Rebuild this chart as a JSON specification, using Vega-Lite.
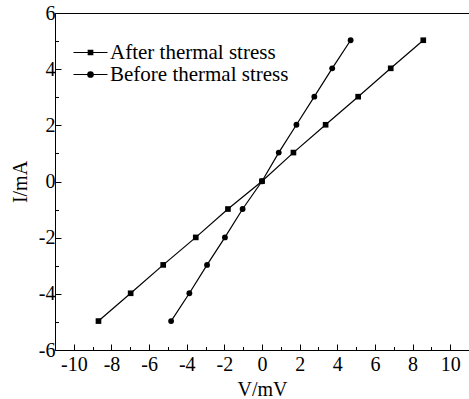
{
  "$schema": "https://vega.github.io/schema/vega-lite/v6.json",
  "autosize": "none",
  "width": 414,
  "height": 337,
  "padding": {"left": 55, "top": 13, "right": 0, "bottom": 49},
  "background": "white",
  "config": {
    "view": {"stroke": "black", "strokeWidth": 1},
    "axis": {
      "grid": false,
      "domainColor": "black",
      "domainWidth": 1,
      "tickColor": "black",
      "tickWidth": 1,
      "labelColor": "black",
      "labelFont": "Liberation Serif",
      "labelFontSize": 20,
      "titleFont": "Liberation Serif",
      "titleFontSize": 20,
      "titleFontWeight": "normal",
      "titleColor": "black",
      "labelFlush": false,
      "labelOverlap": false,
      "labelBound": false
    }
  },
  "data": {
    "values": [
      {"series": "After thermal stress", "V": -8.69, "I": -4.97},
      {"series": "After thermal stress", "V": -6.98, "I": -3.98},
      {"series": "After thermal stress", "V": -5.25, "I": -2.97},
      {"series": "After thermal stress", "V": -3.52, "I": -1.99},
      {"series": "After thermal stress", "V": -1.81, "I": -0.98},
      {"series": "After thermal stress", "V": 0, "I": 0.01},
      {"series": "After thermal stress", "V": 1.67, "I": 1.03},
      {"series": "After thermal stress", "V": 3.38, "I": 2.02},
      {"series": "After thermal stress", "V": 5.11, "I": 3.02},
      {"series": "After thermal stress", "V": 6.84, "I": 4.03},
      {"series": "After thermal stress", "V": 8.57, "I": 5.03},
      {"series": "Before thermal stress", "V": -4.83, "I": -4.97},
      {"series": "Before thermal stress", "V": -3.86, "I": -3.98},
      {"series": "Before thermal stress", "V": -2.92, "I": -2.97},
      {"series": "Before thermal stress", "V": -1.97, "I": -1.99},
      {"series": "Before thermal stress", "V": -1.03, "I": -0.98},
      {"series": "Before thermal stress", "V": 0, "I": 0.01},
      {"series": "Before thermal stress", "V": 0.89, "I": 1.03},
      {"series": "Before thermal stress", "V": 1.83, "I": 2.02},
      {"series": "Before thermal stress", "V": 2.78, "I": 3.02},
      {"series": "Before thermal stress", "V": 3.73, "I": 4.03},
      {"series": "Before thermal stress", "V": 4.71, "I": 5.03}
    ]
  },
  "resolve": {"axis": {"x": "independent", "y": "independent"}, "scale": {"x": "shared", "y": "shared"}},
  "layer": [
    {
      "mark": {"type": "line", "color": "black", "strokeWidth": 1.2},
      "encoding": {
        "x": {
          "field": "V", "type": "quantitative",
          "scale": {"domain": [-11, 11], "nice": false, "zero": false},
          "axis": {"orient": "bottom", "values": [-10, -8, -6, -4, -2, 0, 2, 4, 6, 8, 10], "tickSize": -6, "labelPadding": 10, "title": "V/mV", "titlePadding": 5,
            "labelExpr": "datum.value < 0 ? '-' + abs(datum.value) : '' + datum.value"}
        },
        "y": {
          "field": "I", "type": "quantitative",
          "scale": {"domain": [-6, 6], "nice": false, "zero": false},
          "axis": {"orient": "left", "values": [-6, -4, -2, 0, 2, 4, 6], "tickSize": -6, "labelPadding": 6, "title": "I/mA", "titlePadding": 8,
            "labelExpr": "datum.value < 0 ? '-' + abs(datum.value) : '' + datum.value"}
        },
        "detail": {"field": "series"}
      }
    },
    {
      "transform": [{"filter": "datum.series == 'After thermal stress'"}],
      "mark": {"type": "point", "filled": true, "shape": "square", "color": "black", "opacity": 1, "size": 32},
      "encoding": {
        "x": {
          "field": "V", "type": "quantitative",
          "axis": {"orient": "bottom", "values": [-9, -7, -5, -3, -1, 1, 3, 5, 7, 9], "tickSize": -3.5, "labels": false, "domain": false, "title": null}
        },
        "y": {
          "field": "I", "type": "quantitative",
          "axis": {"orient": "left", "values": [-5, -3, -1, 1, 3, 5], "tickSize": -3.5, "labels": false, "domain": false, "title": null}
        }
      }
    },
    {
      "transform": [{"filter": "datum.series == 'Before thermal stress'"}],
      "mark": {"type": "point", "filled": true, "shape": "circle", "color": "black", "opacity": 1, "size": 34},
      "encoding": {
        "x": {"field": "V", "type": "quantitative", "axis": null},
        "y": {"field": "I", "type": "quantitative", "axis": null}
      }
    },
    {
      "mark": {"type": "point", "filled": false, "color": "black", "opacity": 0, "strokeWidth": 1.2, "size": 30},
      "encoding": {
        "x": {"field": "V", "type": "quantitative", "axis": null},
        "y": {"field": "I", "type": "quantitative", "axis": null},
        "shape": {
          "field": "series", "type": "nominal",
          "scale": {
            "domain": ["After thermal stress", "Before thermal stress"],
            "range": [
              "M-3.4,0H3.4M-0.45,-0.45H0.45V0.45H-0.45ZM-0.45,-0.3H0.45M-0.45,-0.15H0.45M-0.45,0.15H0.45M-0.45,0.3H0.45",
              "M-3.4,0H3.4M-0.55,0A0.55,0.55,0,1,0,0.55,0A0.55,0.55,0,1,0,-0.55,0ZM-0.4,-0.35H0.4M-0.5,-0.18H0.5M-0.5,0.18H0.5M-0.4,0.35H0.4"
            ]
          },
          "legend": {
            "title": null,
            "orient": "none",
            "legendX": 25,
            "legendY": 29,
            "padding": 0,
            "symbolSize": 100,
            "symbolOpacity": 1,
            "symbolFillColor": "black",
            "symbolStrokeColor": "black",
            "symbolStrokeWidth": 1.2,
            "labelOffset": 9,
            "labelLimit": 400,
            "rowPadding": 0,
            "labelFont": "Liberation Serif",
            "labelFontSize": 21,
            "labelColor": "black"
          }
        }
      }
    }
  ]
}
